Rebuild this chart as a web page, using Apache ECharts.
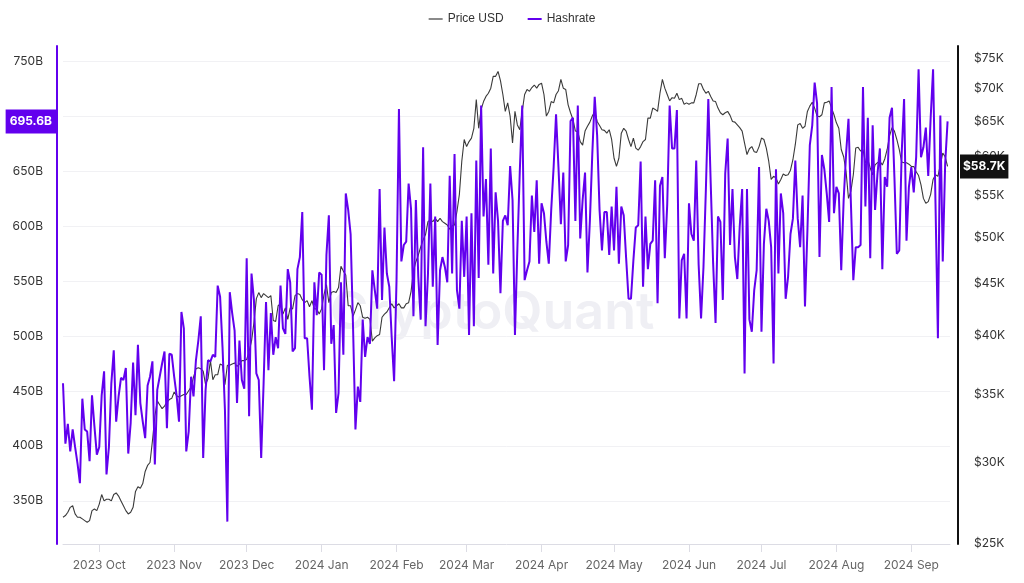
<!DOCTYPE html>
<html>
<head>
<meta charset="utf-8">
<script src="https://cdn.jsdelivr.net/npm/echarts@6/dist/echarts.min.js"></script>
<style>
  html, body { margin: 0; padding: 0; background: #ffffff; }
  #chart { width: 1024px; height: 583px; }
</style>
</head>
<body>
<div id="chart"></div>
<script>
// ---- Data (daily, starting 2023-09-16) ----
const startDay = [2023, 9, 16];
const endDay = [2024, 9, 17];

// Hashrate in billions (B)
const hashrateB = [
  457,402,420,395,415,399,384,366,443,415,
  413,386,446,418,392,399,446,468,374,399,
  457,487,422,445,462,460,471,393,421,476,
  428,492,439,422,407,455,463,477,383,451,
  463,475,486,416,484,483,463,446,422,522,
  507,395,413,463,445,478,496,518,389,451,
  478,477,483,481,546,536,490,433,331,540,
  521,505,439,496,460,452,571,427,557,533,
  466,460,389,457,531,469,521,483,499,489,
  546,507,
  502,561,549,486,489,561,572,613,498,498,
  463,433,549,519,558,556,469,574,610,493,
  510,430,448,549,483,630,615,593,509,415,
  454,440,515,481,499,493,560,542,525,634,
  533,599,557,545,499,459,551,707,568,583,
  586,639,616,518,624,554,515,672,509,556,
  639,545,609,492,560,572,563,549,646,557,
  666,542,525,605,554,609,501,612,509,660,
  553,710,609,643,565,671,557,631,605,539,
  605,
  610,601,655,624,501,580,650,710,551,560,
  568,628,595,642,566,621,612,586,566,615,
  654,702,654,602,649,568,583,696,699,605,
  710,589,624,649,558,605,666,718,683,615,
  578,613,613,574,618,578,636,566,618,610,
  571,534,534,569,599,601,659,545,609,561,
  584,587,642,530,637,645,571,620,710,671,
  671,706,516,569,575,516,621,593,587,660,
  565,516,563,634,716,639,566,512,609,604,
  533,648,
  680,583,634,572,552,600,634,466,634,515,
  504,542,560,654,504,584,616,605,581,475,
  652,557,630,612,534,554,593,607,660,607,
  581,628,527,596,674,692,731,712,572,665,
  652,630,604,727,612,636,630,560,624,666,
  698,621,551,581,581,583,727,618,699,571,
  692,615,648,671,561,645,636,699,708,645,
  575,578,666,716,587,636,654,631,663,743,
  663,672,690,646,699,743,621,498,701,568,
  657,695.6
];

// BTC price in thousands of USD
const priceK = [
  26.5,26.6,26.8,27.1,27.2,26.7,26.5,26.5,26.4,26.3,
  26.2,26.3,26.9,27.0,26.9,27.3,27.9,27.5,27.6,27.6,
  27.5,27.9,28.0,27.8,27.5,27.2,26.9,26.7,26.8,27.1,
  28.1,28.4,28.3,28.6,29.4,29.8,30.0,31.5,33.3,34.5,
  34.2,33.9,34.1,34.4,34.6,34.7,35.2,34.9,34.8,34.9,
  35.0,35.0,35.3,35.6,36.4,37.1,37.2,37.1,36.9,35.8,
  36.3,37.8,36.2,36.6,36.6,37.5,37.4,35.8,37.4,37.4,
  37.5,37.6,37.3,37.5,37.8,37.8,37.9,38.6,39.5,41.2,
  43.5,44.1,43.6,44.0,43.8,43.6,43.8,41.4,41.3,42.8,
  43.0,42.0,
  42.6,41.5,42.6,42.5,43.8,44.0,43.9,43.4,43.1,43.3,
  42.7,43.3,42.5,42.5,42.0,42.5,43.9,44.9,43.1,44.1,
  44.2,44.1,44.6,46.8,46.3,45.9,42.8,42.8,41.8,42.4,
  43.1,42.8,41.7,41.6,41.7,41.5,39.5,39.8,40.0,40.1,
  41.7,42.0,42.2,42.6,43.0,42.6,42.8,43.0,42.6,42.6,
  43.0,43.1,44.2,46.3,47.3,48.0,48.9,49.7,50.3,51.8,
  52.0,51.8,52.2,51.8,52.2,51.8,51.6,51.4,50.9,51.3,
  51.4,53.0,55.1,59.4,62.4,61.4,62.1,62.6,64.0,68.3,
  64.0,66.8,68.0,68.8,69.3,70.1,72.0,72.0,72.8,71.3,
  69.1,
  66.5,67.8,65.8,61.9,66.5,64.5,63.8,66.5,69.1,69.9,
  69.6,70.2,70.6,70.1,70.7,70.9,69.1,65.8,66.5,68.0,
  67.8,69.1,69.7,71.5,70.1,69.9,67.5,66.3,65.3,63.6,
  63.5,62.1,61.6,63.6,64.3,64.9,65.8,66.5,65.0,64.4,
  63.8,63.7,63.3,63.8,62.4,59.8,58.7,59.8,63.3,64.0,
  63.6,62.4,61.4,62.6,61.2,60.9,61.4,62.1,62.4,65.5,
  65.5,67.0,66.8,66.5,69.3,71.5,70.1,69.1,68.1,68.6,
  68.5,69.3,68.3,68.5,67.6,67.8,67.6,67.8,67.8,69.1,
  70.8,70.8,69.9,69.3,69.6,68.8,68.1,68.0,67.0,66.3,
  66.0,66.3,
  66.5,65.9,65.0,64.9,64.5,64.1,63.6,61.9,60.3,61.1,
  61.4,60.7,60.6,61.4,62.6,62.4,61.2,59.4,57.0,57.4,
  57.2,56.4,57.0,57.7,57.5,57.6,58.2,59.6,61.7,64.5,
  64.7,64.0,64.3,66.5,67.3,67.9,67.0,65.8,65.7,66.0,
  67.8,67.9,68.1,67.0,66.0,64.8,64.0,61.0,60.0,58.0,
  54.6,55.5,57.6,61.2,61.3,60.8,61.0,59.2,59.6,58.5,
  57.6,58.9,59.2,59.4,58.9,59.7,61.0,62.9,64.1,63.6,
  62.4,61.0,59.3,59.2,59.2,59.0,58.7,58.7,58.0,57.5,
  56.3,54.6,54.0,54.2,55.1,57.0,57.6,57.4,58.9,60.5,
  60.0,58.7
];

// Tick labels
const monthNames = ['Jan','Feb','Mar','Apr','May','Jun','Jul','Aug','Sep','Oct','Nov','Dec'];
const hashTicks = [350,400,450,500,550,600,650,700,750];
const priceTicks = [25000,30000,35000,40000,45000,50000,55000,60000,65000,70000,75000];

// ---- Build ----
const DAY = 86400000;
const t0 = new Date(startDay[0], startDay[1]-1, startDay[2]).getTime();
const tEnd = new Date(endDay[0], endDay[1]-1, endDay[2]).getTime();
const hashData = hashrateB.map((v,i)=>[t0 + i*DAY, v]);
const priceData = priceK.map((v,i)=>[t0 + i*DAY, v*1000]);
const lastHash = hashrateB[hashrateB.length-1];
const lastPrice = priceK[priceK.length-1]*1000;

const PURPLE = '#6200ee';
const FONT = 'Inter, "Noto Sans", sans-serif';

const chart = echarts.init(document.getElementById('chart'), null, {renderer:'canvas'});
chart.setOption({
  animation: false,
  backgroundColor: '#ffffff',
  textStyle: { fontFamily: FONT },
  legend: {
    top: 8, left: 'center',
    icon: 'rect', itemWidth: 14, itemHeight: 2, itemGap: 24,
    textStyle: { fontFamily: '"Liberation Sans", Arial, sans-serif', fontSize: 12, color: '#333' },
    data: [
      { name: 'Price USD', itemStyle: { color: '#8a8a8a' } },
      { name: 'Hashrate', itemStyle: { color: PURPLE } }
    ]
  },
  graphic: [{
    type: 'text', left: 330, top: 287, z: -1, silent: true,
    style: { text: 'CryptoQuant', fontSize: 52, fontWeight: 600, fontFamily: FONT, fill: '#efeff4' }
  }],
  grid: { left: 63, right: 74, top: 46, bottom: 39, containLabel: false },
  xAxis: {
    type: 'time', min: t0, max: tEnd, splitNumber: 12,
    minInterval: 28 * DAY, maxInterval: 31 * DAY,
    axisLine: { show: true, lineStyle: { color: '#dcdce4', width: 1 } },
    axisTick: { show: true, length: 8, lineStyle: { color: '#dcdce4' } },
    axisLabel: {
      color: '#666', fontSize: 12, margin: 15, fontFamily: FONT, showMinLabel: false, showMaxLabel: false,
      formatter: v => { const d = new Date(v); return d.getFullYear() + ' ' + monthNames[d.getMonth()]; }
    },
    splitLine: { show: false }
  },
  yAxis: [{
    type: 'value', position: 'left', min: 310.6, max: 764.3, offset: 6,
    axisLine: { show: true, lineStyle: { color: PURPLE, width: 2 } },
    axisTick: { show: false, customValues: hashTicks },
    axisLabel: { customValues: hashTicks, color: '#333', fontSize: 12, margin: 14, fontFamily: FONT,
      formatter: v => v + 'B' },
    splitLine: { show: true, lineStyle: { color: '#f1f1f4', width: 1 } }
  }, {
    type: 'log', position: 'right', min: 24940, max: 77130, offset: 8,
    axisLine: { show: true, lineStyle: { color: '#111', width: 2 } },
    axisTick: { show: false },
    axisLabel: { customValues: priceTicks, color: '#333', fontSize: 12, margin: 16, fontFamily: FONT,
      formatter: v => '$' + Math.round(v/1000) + 'K' },
    splitLine: { show: false }
  }],
  series: [{
    name: 'Price USD', type: 'line', yAxisIndex: 1, data: priceData,
    showSymbol: false, symbol: 'none',
    lineStyle: { color: '#3a3a3a', width: 1.1 }, itemStyle: { color: '#3a3a3a' },
    markLine: {
      silent: true, symbol: 'none', animation: false,
      lineStyle: { color: 'rgba(0,0,0,0)', width: 0 },
      label: { show: true, position: 'end', distance: 10, formatter: () => '$' + (lastPrice/1000).toFixed(1) + 'K',
        backgroundColor: '#111', color: '#fff', fontWeight: 'bold', fontSize: 12, padding: [6,3], fontFamily: FONT },
      data: [{ yAxis: lastPrice }]
    }
  }, {
    name: 'Hashrate', type: 'line', yAxisIndex: 0, data: hashData,
    showSymbol: false, symbol: 'none',
    lineStyle: { color: PURPLE, width: 2 }, itemStyle: { color: PURPLE },
    markLine: {
      silent: true, symbol: 'none', animation: false,
      lineStyle: { color: 'rgba(0,0,0,0)', width: 0 },
      label: { show: true, position: 'start', distance: 7, formatter: () => lastHash.toFixed(1) + 'B',
        backgroundColor: PURPLE, color: '#fff', fontWeight: 'bold', fontSize: 12, padding: [6,4], fontFamily: FONT },
      data: [{ yAxis: lastHash }]
    }
  }]
});
</script>
</body>
</html>
